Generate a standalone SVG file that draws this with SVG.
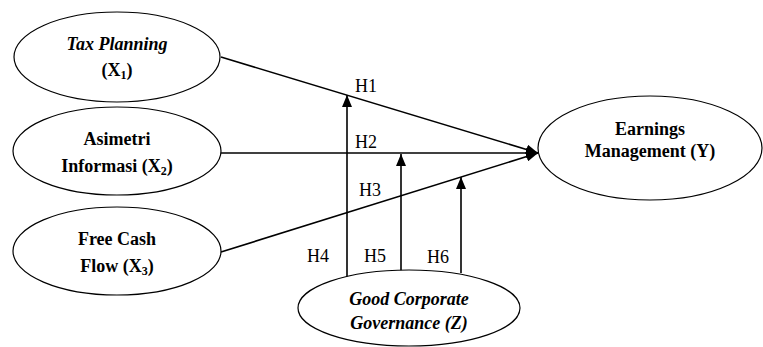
<svg xmlns="http://www.w3.org/2000/svg" width="763" height="347" viewBox="0 0 763 347">
<defs>
<marker id="arr" viewBox="0 0 12 10" refX="12" refY="5" markerWidth="12" markerHeight="10" markerUnits="userSpaceOnUse" orient="auto">
<path d="M0,0 L12,5 L0,10 Z" fill="#000"/>
</marker>
</defs>
<style>
text{font-family:'Liberation Serif','Times New Roman',serif}
.node ellipse{fill:#fff;stroke:#000;stroke-width:1.2}
.t{font-size:18px;font-weight:bold;text-anchor:middle;fill:#000}
.i{font-style:italic}
.lbl{font-size:18px;fill:#000}
.edge{stroke:#000;stroke-width:1.6;fill:none;marker-end:url(#arr)}
</style>
<rect width="763" height="347" fill="#fff"/>
<g id="connectors">
<line class="edge" x1="221" y1="57" x2="538" y2="153"/>
<line class="edge" x1="221" y1="153" x2="538" y2="153"/>
<line class="edge" x1="221" y1="252" x2="538" y2="153"/>
<line class="edge" x1="347" y1="278" x2="347" y2="95"/>
<line class="edge" x1="401" y1="272" x2="401" y2="154"/>
<line class="edge" x1="461" y1="273" x2="461" y2="177"/>
<text class="lbl" x="355" y="92">H1</text>
<text class="lbl" x="355" y="148">H2</text>
<text class="lbl" x="359" y="196">H3</text>
<text class="lbl" x="307" y="262">H4</text>
<text class="lbl" x="364" y="262">H5</text>
<text class="lbl" x="427" y="263">H6</text>
</g>
<g id="x1" class="node">
<ellipse cx="117" cy="57" rx="103" ry="45"/>
<text class="t i" x="117" y="50">Tax Planning</text>
<text class="t" x="117" y="76">(X<tspan font-size="12" dy="3">1</tspan><tspan dy="-3">)</tspan></text>
</g>
<g id="x2" class="node">
<ellipse cx="117" cy="151" rx="104" ry="44"/>
<text class="t" x="117" y="145">Asimetri</text>
<text class="t" x="117" y="172">Informasi (X<tspan font-size="12" dy="3">2</tspan><tspan dy="-3">)</tspan></text>
</g>
<g id="x3" class="node">
<ellipse cx="117" cy="251" rx="104" ry="44"/>
<text class="t" x="117" y="245">Free Cash</text>
<text class="t" x="117" y="272">Flow (X<tspan font-size="12" dy="3">3</tspan><tspan dy="-3">)</tspan></text>
</g>
<g id="y" class="node">
<ellipse cx="650" cy="148" rx="112" ry="52"/>
<text class="t" x="650" y="135">Earnings</text>
<text class="t" x="650" y="157">Management (Y)</text>
</g>
<g id="z" class="node">
<ellipse cx="409" cy="308" rx="111" ry="38"/>
<text class="t i" x="409" y="305">Good Corporate</text>
<text class="t i" x="409" y="329">Governance (Z)</text>
</g>
</svg>
